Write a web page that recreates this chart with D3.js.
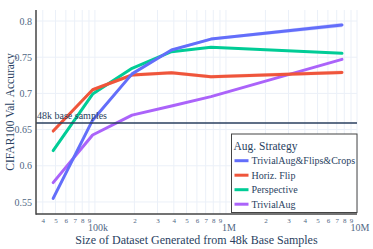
<!DOCTYPE html>
<html>
<head>
<meta charset="utf-8">
<script src="https://cdn.jsdelivr.net/npm/d3@7"></script>
<style>
  body { margin: 0; background: #fff; }
  svg { display: block; }
  svg text { font-family: "Liberation Serif", "Times New Roman", serif; }
</style>
</head>
<body>
<svg id="chart" width="373" height="249"></svg>
<script>
// dataset sizes (generated from the 48k base samples)
var sizes = [48e3, 96e3, 192e3, 384e3, 768e3, 7.68e6];

var seriesNames = ["TrivialAug&Flips&Crops", "Horiz. Flip", "Perspective", "TrivialAug"];
var seriesColors = ["#636efa", "#ef553b", "#00cc96", "#ab63fa"];

var accAll = [0.555, 0.663, 0.727, 0.760, 0.775, 0.7945];
var accFlip = [0.648, 0.705, 0.7254, 0.7286, 0.723, 0.729];
var accPersp = [0.621, 0.699, 0.7347, 0.7576, 0.7636, 0.7553];
var accTrivial = [0.5767, 0.6425, 0.670, 0.6826, 0.6955, 0.747];

// half width of the shaded band round each line
var errAll = [0.001, 0.001, 0.001, 0.0015, 0.002, 0.003];
var errFlip = [0.0025, 0.0025, 0.0025, 0.0025, 0.0025, 0.0025];
var errPersp = [0.001, 0.001, 0.001, 0.001, 0.001, 0.001];
var errTrivial = [0.001, 0.001, 0.001, 0.001, 0.001, 0.001];

var yTicks = [0.55, 0.6, 0.65, 0.7, 0.75, 0.8];
var majorLabels = {1e5: "100k", 1e6: "1M", 1e7: "10M"};

var baseLine = 0.659;
var baseLabel = "48k base samples";

var series = [
    {name: seriesNames[0], color: seriesColors[0], acc: accAll, err: errAll},
    {name: seriesNames[1], color: seriesColors[1], acc: accFlip, err: errFlip},
    {name: seriesNames[2], color: seriesColors[2], acc: accPersp, err: errPersp},
    {name: seriesNames[3], color: seriesColors[3], acc: accTrivial, err: errTrivial}
];

var pL = 36, pR = 357, pT = 10, pB = 214;
var textCol = "#2a3f5f", tickCol = "#506784";
var serif = "'Liberation Serif', 'Times New Roman', serif";

var svg = d3.select("#chart");

var x = d3.scaleLog().domain([35500, 1e7]).range([pL, pR]);
var y = d3.scaleLinear().domain([0.5334, 0.8152]).range([pB, pT]);

// log ticks: every digit of every decade inside the range
var xTicks = [];
[1e4, 1e5, 1e6, 1e7].forEach(function(dec) {
    for (var k = 1; k <= 9; k++) {
	var v = dec * k;
	if (v >= x.domain()[0] && v <= x.domain()[1]) xTicks.push(v);
    }
});

// grid
svg.append("g").selectAll("line").data(xTicks).enter().append("line")
    .attr("x1", function(d) { return x(d); }).attr("x2", function(d) { return x(d); })
    .attr("y1", pT).attr("y2", pB)
    .style("stroke", "#ebf0f8").style("stroke-width", 1);
svg.append("g").selectAll("line").data(yTicks).enter().append("line")
    .attr("x1", pL).attr("x2", pR)
    .attr("y1", function(d) { return y(d); }).attr("y2", function(d) { return y(d); })
    .style("stroke", "#ebf0f8").style("stroke-width", 1);

// y axis
var yAxis = svg.append("g").attr("transform", "translate(" + pL + ",0)")
    .call(d3.axisLeft(y).tickValues(yTicks).tickSize(0).tickPadding(4).tickFormat(d3.format("~g")));
yAxis.attr("font-family", null);
yAxis.select(".domain").remove();
yAxis.selectAll("text").style("font-family", serif).style("font-size", "10px").style("fill", tickCol);

// x axis
var xAxis = svg.append("g").attr("transform", "translate(0," + pB + ")")
    .call(d3.axisBottom(x).tickValues(xTicks).tickSize(0).tickPadding(3)
	  .tickFormat(function(d) { return majorLabels[d] || String(Math.round(d / Math.pow(10, Math.floor(Math.log10(d) + 1e-9)))); }));
xAxis.attr("font-family", null);
xAxis.select(".domain").remove();
xAxis.selectAll("text").style("font-family", serif).style("fill", tickCol)
    .style("font-size", function(d) { return majorLabels[d] ? "10px" : "7px"; })
    .attr("dx", function(d) { return majorLabels[d] ? 2.5 : 0; })
    .attr("dy", function(d) { return majorLabels[d] ? "1.35em" : "0.9em"; });

// bands and lines
var area = d3.area()
    .x(function(d, i) { return x(sizes[i]); })
    .y0(function(d) { return y(d[0] - d[1]); })
    .y1(function(d) { return y(d[0] + d[1]); });
var line = d3.line()
    .x(function(d, i) { return x(sizes[i]); })
    .y(function(d) { return y(d); });

// draw in reverse so the first series ends on top
series.slice().reverse().forEach(function(s) {
    var pairs = s.acc.map(function(v, i) { return [v, s.err[i]]; });
    svg.append("path").datum(pairs).attr("d", area)
	.style("fill", s.color).style("fill-opacity", 0.25).style("stroke", "none");
    svg.append("path").datum(s.acc).attr("d", line)
	.style("fill", "none").style("stroke", s.color).style("stroke-width", 3)
	.style("stroke-linejoin", "round").style("stroke-linecap", "round");
});

// base samples reference line
svg.append("line")
    .attr("x1", pL).attr("x2", pR)
    .attr("y1", y(baseLine)).attr("y2", y(baseLine))
    .style("stroke", "#2a3f5f").style("stroke-width", 1.5);
svg.append("text").attr("x", pL + 1).attr("y", y(baseLine) - 4.5)
    .text(baseLabel).style("font-family", serif).style("font-size", "10px").style("fill", textCol);

// axis lines
svg.append("line").attr("x1", pL).attr("x2", pL).attr("y1", pT).attr("y2", pB + 0.75)
    .style("stroke", "#444").style("stroke-width", 1.5);
svg.append("line").attr("x1", pL).attr("x2", pR).attr("y1", pB).attr("y2", pB)
    .style("stroke", "#444").style("stroke-width", 1.5);

// axis titles
svg.append("text").attr("transform", "translate(14," + ((pT + pB) / 2) + ") rotate(-90)")
    .attr("text-anchor", "middle").text("CIFAR100 Val. Accuracy")
    .style("font-family", serif).style("font-size", "11.5px").style("fill", textCol);
svg.append("text").attr("x", (pL + pR) / 2).attr("y", 244)
    .attr("text-anchor", "middle").text("Size of Dataset Generated from 48k Base Samples")
    .style("font-family", serif).style("font-size", "12px").style("fill", textCol);

// legend
var lg = svg.append("g").attr("transform", "translate(231.5,134)");
lg.append("rect").attr("width", 125.5).attr("height", 78.5)
    .style("fill", "#fff").style("stroke", "#444").style("stroke-width", 1);
lg.append("text").attr("x", 2).attr("y", 15.5).text("Aug. Strategy")
    .style("font-family", serif).style("font-size", "11.5px").style("fill", textCol);
var items = lg.selectAll("g.item").data(series).enter().append("g")
    .attr("transform", function(d, i) { return "translate(0," + (26.7 + i * 14.5) + ")"; });
items.append("line").attr("x1", 3).attr("x2", 17)
    .style("stroke", function(d) { return d.color; }).style("stroke-width", 3);
items.append("text").attr("x", 20).attr("y", 3.5).text(function(d) { return d.name; })
    .style("font-family", serif).style("font-size", "10px").style("fill", textCol);
</script>
</body>
</html>
